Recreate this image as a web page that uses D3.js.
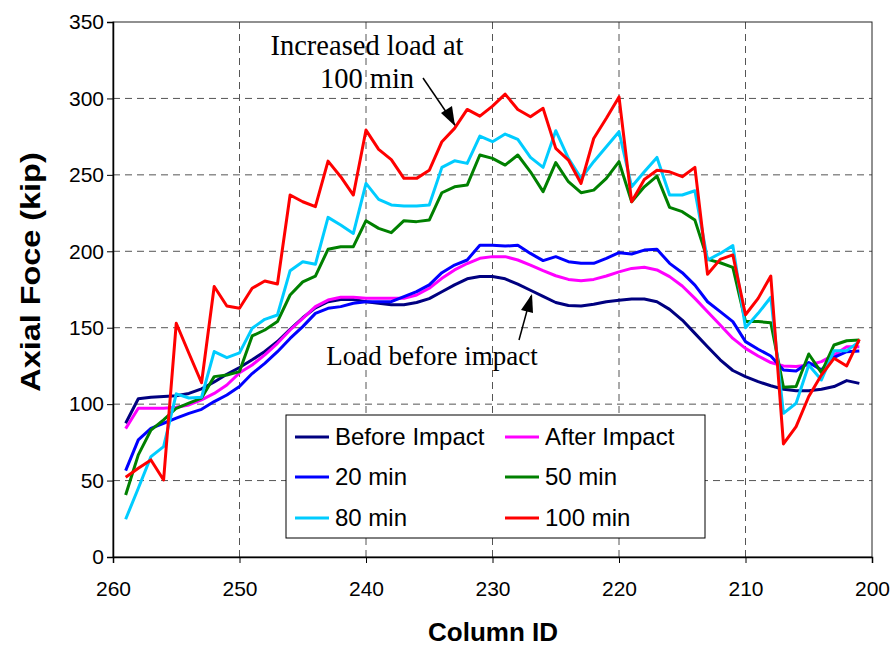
<!DOCTYPE html>
<html><head><meta charset="utf-8">
<script src="https://cdn.jsdelivr.net/npm/d3@7"></script>
<style>body{margin:0;background:#fff}svg{display:block}</style>
</head><body>
<svg id="c" width="896" height="648"></svg>
<script>
const columns = d3.range(259, 200, -1);
const beforeImpact = [87.5,103.5,104.5,105,105.5,107,110,114.5,119.5,124, 129,134.5,141,149,156.5,163,167,168.5,168.5,167, 166,165,165,166.5,169,173.5,178,182,183.5,183.5, 182,178.5,174.5,170.5,166.5,164.5,164.2,165.3,167,168, 168.8,168.8,167,162,155,146.3,137.6,129,122,118, 114.7,112,109.7,108.8,108.8,109.7,111.5,115.4,113.6];
const afterImpact = [84,97.3,97.3,97.3,98,99.5,102.8,107,112.5,120.5, 125.6,132.2,139.8,148.5,156.1,163.8,168.1,169.9,170,169.2, 169.2,169.2,169.2,171.4,175.8,182.3,187.8,192,195.4,196.5, 196.5,194.3,191,187.3,184,181.6,180.8,181.6,183.8,186.5, 188.8,189.5,187.8,183.4,177.3,169.2,160.5,151.8,143,136.5, 131.5,127.2,125,124.6,125.6,127.8,132.2,137.6,137.6];
const min20 = [56.5,76.6,84.2,87.5,90.8,94,96.6,101.7,106,111.5, 120,126.7,134.3,143,150.7,159.4,162.7,163.8,166,167, 167,167,170.3,173.6,178,186,191,194.3,204,204, 203.4,204,198.6,193.9,196.5,193.2,192.1,192.1,195.4,199.1, 198.2,200.8,201.3,192.1,186,177.9,167,160.5,154,140.9, 135.9,131.5,122.4,121.7,127.2,122.4,130.6,134.3,134.8];
const min50 = [40.6,66.8,83,89.7,97.3,100.6,104,118,119,121.3, 144.6,148.5,154,171.4,180,183.8,201.3,203,203,220, 215,212.2,220,219.4,220.4,238.3,242.2,243.3,263,260.8, 256.4,263,252,239,258,245.5,238.3,240,247.7,258.6, 232.4,242.2,249.2,228.7,225.9,220.4,194.7,192.5,189.5,154, 154,153.3,111,111.5,132.8,120.6,138.7,141.5,142];
const min80 = [24.7,45,65.7,72.2,106.7,104,104.5,134.4,130.4,133.5, 149.6,155.5,158.3,187.3,193.2,191.5,222.2,217.2,211.7,244.4, 234,230.3,229.6,229.6,230.3,254.9,259.2,257.5,275.4,271.7, 276.7,273.2,261.4,254.9,278.9,260.8,247.7,258.6,268.4,278.2, 242.2,252,261.4,236.8,236.8,239.6,194.3,198.6,203.7,150, 159.4,169.9,94,100.6,125.6,115.8,135,135,140.9];
const min100 = [52.2,58,63.5,50.4,152.9,133.3,114,177,164.2,162.7, 175.8,180.6,178.6,236.8,232.4,229.2,259,248.8,236.8,279.3, 266.7,260,247.7,247.7,253,271.7,280.4,292.8,288.4,295, 302.8,292.8,288,293.5,267.3,259.7,244.4,273.8,287,301, 232.4,247,253,252,248.8,254.9,185,194.7,197.6,158.5, 169.2,183.8,74,85.3,105,119,130,125,142.4];
const seriesNames = ["Before Impact","After Impact","20 min","50 min","80 min","100 min"];
const seriesValues = [beforeImpact, afterImpact, min20, min50, min80, min100];
const seriesColors = ["#000080","#FF00FF","#0000FF","#008000","#00CCFF","#FF0000"];
const xTicks = [260,250,240,230,220,210,200];
const yTicks = [0,50,100,150,200,250,300,350];

const svg = d3.select("#c");
const L = 113, R = 872, T = 22, B = 557;
const x = d3.scaleLinear().domain([260, 200]).range([L, R]);
const y = d3.scaleLinear().domain([0, 350]).range([B, T]);

// gridlines
const g = svg.append("g");
g.selectAll(".hg").data(yTicks.filter(v => v > 0 && v < 350)).join("line")
  .attr("x1", L).attr("x2", R).attr("y1", d => y(d)).attr("y2", d => y(d))
  .attr("stroke", "#555").attr("stroke-width", 1).attr("stroke-dasharray", "7,5");
g.selectAll(".vg").data(xTicks.filter(v => v < 260 && v > 200)).join("line")
  .attr("y1", T).attr("y2", B).attr("x1", d => x(d)).attr("x2", d => x(d))
  .attr("stroke", "#555").attr("stroke-width", 1).attr("stroke-dasharray", "7,5");

// border
svg.append("rect").attr("x", L).attr("y", T).attr("width", R - L).attr("height", B - T)
  .attr("fill", "none").attr("stroke", "#222").attr("stroke-width", 1);

// axes
const fontAx = "'Liberation Sans', Arial, sans-serif";
const yAxis = svg.append("g").attr("transform", `translate(${L},0)`)
  .call(d3.axisLeft(y).tickValues(yTicks).tickSize(6).tickPadding(3));
const xAxis = svg.append("g").attr("transform", `translate(0,${B})`)
  .call(d3.axisBottom(x).tickValues(xTicks).tickSize(6).tickPadding(18));
[yAxis, xAxis].forEach(a => {
  a.selectAll("path").attr("stroke", "#000").attr("stroke-width", 1.5);
  a.selectAll("line").attr("stroke", "#000");
  a.selectAll("text").attr("font-family", fontAx).attr("font-size", 21).attr("fill", "#000");
});

// lines
const line = d3.line().x((d, i) => x(columns[i])).y(d => y(d));
seriesValues.forEach((vals, k) => {
  svg.append("path").datum(vals).attr("d", line)
    .attr("fill", "none").attr("stroke", seriesColors[k])
    .attr("stroke-width", 3).attr("stroke-linejoin", "round");
});

// axis titles
svg.append("text").attr("x", 493).attr("y", 641).attr("text-anchor", "middle")
  .attr("font-family", fontAx).attr("font-weight", "bold").attr("font-size", 26).text("Column ID");
svg.append("text").attr("transform", "translate(40,272) rotate(-90) scale(1.2,1)").attr("text-anchor", "middle")
  .attr("font-family", fontAx).attr("font-weight", "bold").attr("font-size", 27).text("Axial Foce (kip)");

// annotations
const serif = "'Liberation Serif', 'Times New Roman', serif";
svg.append("text").attr("x", 367).attr("y", 55).attr("text-anchor", "middle")
  .attr("font-family", serif).attr("font-size", 28.5).text("Increased load at");
svg.append("text").attr("x", 367).attr("y", 88).attr("text-anchor", "middle")
  .attr("font-family", serif).attr("font-size", 28.5).text("100 min");
svg.append("text").attr("x", 432).attr("y", 365).attr("text-anchor", "middle")
  .attr("font-family", serif).attr("font-size", 27).text("Load before impact");

svg.append("line").attr("x1", 423).attr("y1", 78).attr("x2", 455).attr("y2", 125)
  .attr("stroke", "#000").attr("stroke-width", 1.5);
svg.append("path").attr("d", "M455,126 L441,113 L452,106 Z").attr("fill", "#000");
svg.append("line").attr("x1", 519).attr("y1", 340).attr("x2", 531).attr("y2", 296)
  .attr("stroke", "#000").attr("stroke-width", 1.5);
svg.append("path").attr("d", "M532,294 L533,313 L521,310 Z").attr("fill", "#000");

// legend
const lg = svg.append("g");
lg.append("rect").attr("x", 286).attr("y", 415).attr("width", 419).attr("height", 123)
  .attr("fill", "#fff").attr("stroke", "#000").attr("stroke-width", 1);
const rowsY = [437, 477, 518];
seriesNames.forEach((n, k) => {
  const col = k % 2, row = Math.floor(k / 2);
  const lx = col === 0 ? 295 : 505;
  lg.append("line").attr("x1", lx).attr("x2", lx + 34).attr("y1", rowsY[row]).attr("y2", rowsY[row])
    .attr("stroke", seriesColors[k]).attr("stroke-width", 3);
  lg.append("text").attr("x", lx + 40).attr("y", rowsY[row]).attr("dy", "0.35em")
    .attr("font-family", fontAx).attr("font-size", 24).text(n);
});
</script>
</body></html>
